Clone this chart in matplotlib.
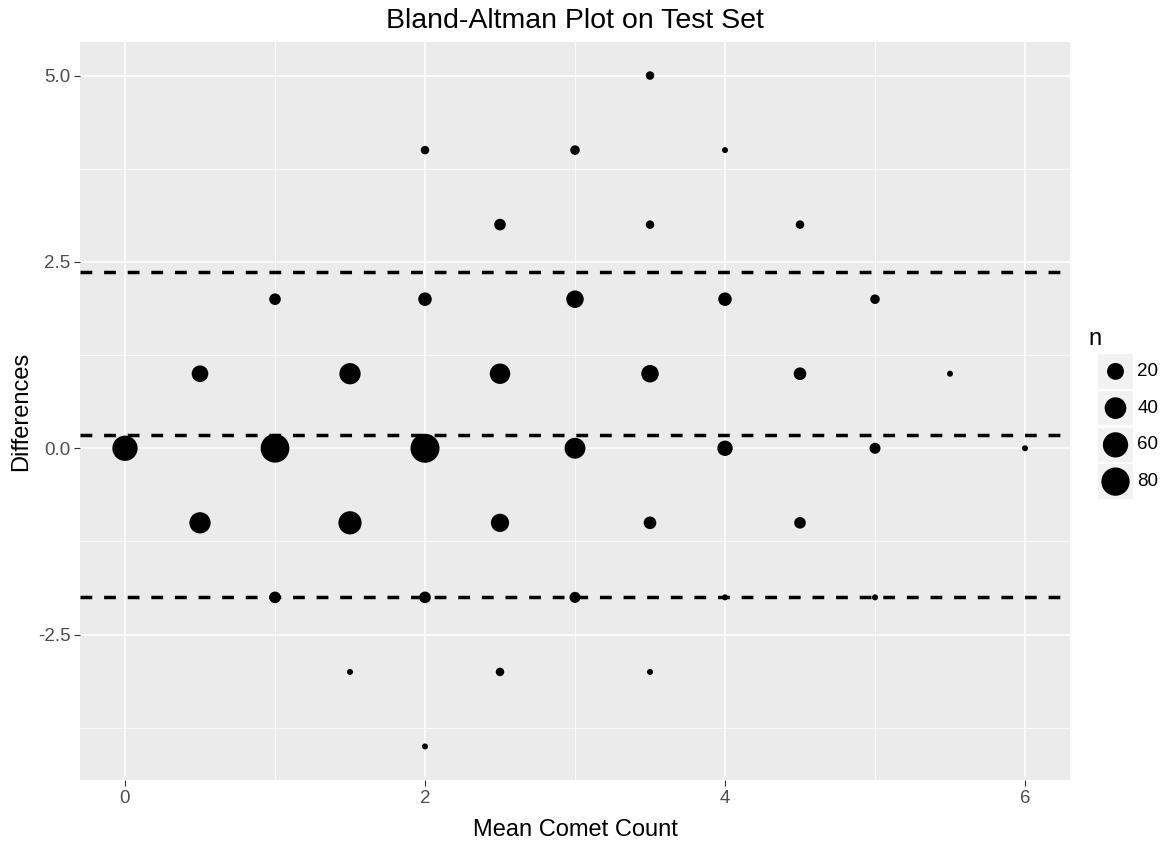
import numpy as np
import matplotlib
matplotlib.use("Agg")
import matplotlib.pyplot as plt
from matplotlib.patches import Rectangle

plt.rcParams['font.family'] = ['Liberation Sans', 'DejaVu Sans']

# mean comet count, difference, and number of images at each (mean, diff)
mean_count = [0, 0.5, 0.5, 1, 1, 1, 1.5, 1.5, 1.5, 2, 2, 2, 2, 2,
              2.5, 2.5, 2.5, 2.5, 3, 3, 3, 3, 3.5, 3.5, 3.5, 3.5, 3.5,
              4, 4, 4, 4, 4.5, 4.5, 4.5, 5, 5, 5, 5.5, 6]
differences = [0, 1, -1, 2, 0, -2, 1, -1, -3, 4, 2, 0, -2, -4,
               3, 1, -1, -3, 4, 2, 0, -2, 5, 3, 1, -1, -3,
               4, 2, 0, -2, 3, 1, -1, 2, 0, -2, 1, 0]
n = [60, 19, 38, 6, 83, 6, 38, 48, 1, 2, 10, 85, 6, 1,
     6, 34, 25, 2, 3, 22, 36, 5, 2, 2, 22, 8, 1,
     1, 10, 15, 1, 2, 8, 6, 3, 5, 1, 1, 1]

mean_diff = 0.18
upper_loa = 2.36
lower_loa = -2.0

legend_breaks = [20, 40, 60, 80]

n_arr = np.array(n, dtype=float)
nmin, nmax = n_arr.min(), n_arr.max()


def size_of(v):
    # area scale like ggplot's scale_size: diameter in px -> points^2
    v = np.asarray(v, dtype=float)
    d_px = 6 + 23 * np.sqrt(np.clip((v - nmin) / (nmax - nmin), 0, 1))
    return (d_px * 0.72) ** 2


fig = plt.figure(figsize=(11.65, 8.41), dpi=100)
W, H = 1165, 841
ax = fig.add_axes([80 / W, 1 - 780 / H, (1070 - 80) / W, (780 - 42) / H])
ax.set_facecolor('#EBEBEB')

ax.set_xlim(-0.3, 6.3)
ax.set_ylim(-4.45, 5.45)
ax.set_xticks([0, 2, 4, 6])
ax.set_xticks([1, 3, 5], minor=True)
ax.set_yticks([-2.5, 0, 2.5, 5.0])
ax.set_yticklabels(['-2.5', '0.0', '2.5', '5.0'])
ax.set_yticks([-3.75, -1.25, 1.25, 3.75], minor=True)

ax.grid(which='major', color='white', linewidth=1.1)
ax.grid(which='minor', color='white', linewidth=0.55)
ax.set_axisbelow(True)
for s in ax.spines.values():
    s.set_visible(False)
ax.tick_params(which='major', length=4, width=0.8, color='#333333',
               labelcolor='#4D4D4D', labelsize=13.5, pad=3)
ax.tick_params(which='minor', length=0)

for yv in [upper_loa, mean_diff, lower_loa]:
    ax.axhline(yv, color='black', linewidth=2.5, linestyle=(0, (3.4, 3.4)), zorder=2)

ax.scatter(mean_count, differences, s=size_of(n), color='black',
           edgecolors='none', zorder=3)

ax.set_xlabel('Mean Comet Count', fontsize=17, labelpad=9)
ax.set_ylabel('Differences', fontsize=17, labelpad=4)
fig.text(575 / W, 1 - 21 / H, 'Bland-Altman Plot on Test Set',
         fontsize=20.5, ha='center', va='center')

# size legend
lax = fig.add_axes([1098 / W, 1 - 500 / H, 35 / W, 147 / H])
lax.set_xlim(0, 1)
lax.set_ylim(4, 0)
lax.axis('off')
for i, b in enumerate(legend_breaks):
    lax.add_patch(Rectangle((0, i + 0.03), 1, 0.94, facecolor='#F2F2F2',
                            edgecolor='none'))
    lax.scatter([0.5], [i + 0.5], s=size_of(b), color='black',
                edgecolors='none', clip_on=False)
    lax.text(1.12, i + 0.5, str(b), fontsize=13.5, ha='left', va='center',
             color='black')
lax.text(-0.28, -0.08, 'n', fontsize=17, ha='left', va='bottom')

fig.savefig('out.png', dpi=100)
